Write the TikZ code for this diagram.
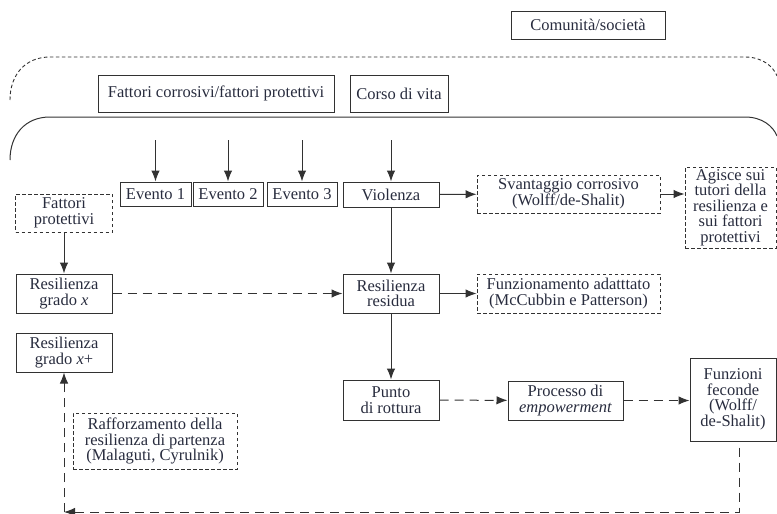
\documentclass[tikz,border=0pt]{standalone}
\usepackage{fontspec}
\setmainfont{Liberation Serif}
\usetikzlibrary{arrows.meta}

\definecolor{ink}{RGB}{40,44,62}
\definecolor{edge}{RGB}{50,50,50}

\tikzset{
  box/.style={draw=edge, line width=1pt, inner sep=0pt, align=center,
    text=ink, font=\fontsize{16.5}{15.5}\selectfont},
  dbox/.style={box, line width=0.9pt, dash pattern=on 3.5pt off 2.5pt},
  arr/.style={draw=edge, line width=1pt, -{Latex[length=11pt,width=8.5pt]}},
  darr/.style={arr, dash pattern=on 9pt off 6pt},
}

\begin{document}
\begin{tikzpicture}[x=1pt,y=-1pt]
    \useasboundingbox (0,0) rectangle (777,514);

    % frames
    \draw[edge, line width=0.9pt, dash pattern=on 3.5pt off 2.5pt]
        (10,100) .. controls (10,75) and (25,57) .. (50,57) -- (745,57)
        .. controls (762,57) and (773,66) .. (777,76);
    \draw[edge, line width=1pt]
        (10,160) .. controls (10,135) and (25,117) .. (50,117) -- (745,117)
        .. controls (762,117) and (773,126) .. (777,136);

    \node[box, minimum width=154, minimum height=28] (com) at (588,25) {Comunità/società};
    \node[box, minimum width=236, minimum height=37] (fcp) at (216,93.5) {Fattori corrosivi/fattori protettivi};
    \node[box, minimum width=98, minimum height=37] (cdv) at (399,93.5) {Corso di vita};

    \node[box, minimum width=71, minimum height=24] (ev1) at (155.5,194) {Evento 1};
    \node[box, minimum width=70, minimum height=24] (ev2) at (228,194) {Evento 2};
    \node[box, minimum width=70, minimum height=24] (ev3) at (302,194) {Evento 3};
    \node[box, minimum width=96, minimum height=25] (viol) at (391,194.5) {Violenza};
    \node[dbox, minimum width=183, minimum height=38] (svant) at (568.5,194) {Svantaggio corrosivo\\(Wolff/de-Shalit)};
    \node[dbox, minimum width=91, minimum height=81] (agisce) at (730.5,207.5) {Agisce sui\\tutori della\\resilienza e\\sui fattori\\protettivi};

    \node[dbox, minimum width=97, minimum height=38] (fprot) at (64,213) {Fattori\\protettivi};
    \node[box, minimum width=96, minimum height=39] (resx) at (64,293.5) {Resilienza\\grado \textit{x}};
    \node[box, minimum width=96, minimum height=39] (resres) at (391,293.5) {Resilienza\\residua};
    \node[dbox, minimum width=183, minimum height=39] (funz) at (568.5,293.5) {Funzionamento adatttato\\(McCubbin e Patterson)};
    \node[box, minimum width=96, minimum height=39] (resxp) at (64,352.5) {Resilienza\\grado \textit{x}+};

    \node[box, minimum width=96, minimum height=40] (punto) at (391,400) {Punto\\di rottura};
    \node[box, minimum width=115, minimum height=39] (proc) at (565.5,400.5) {Processo di\\\textit{empowerment}};
    \node[box, minimum width=86, minimum height=83] (fecon) at (733,399.5) {Funzioni\\feconde\\(Wolff/\\de-Shalit)};
    \node[dbox, minimum width=164, minimum height=56] (raff) at (155,441) {Rafforzamento della\\resilienza di partenza\\(Malaguti, Cyrulnik)};

    \coordinate (in1) at (155.5,140);
    \coordinate (in2) at (228,140);
    \coordinate (in3) at (302,140);
    \coordinate (in4) at (391,140);
    \coordinate (back) at (64,512);

    \draw[arr] (in1) -- (ev1);
    \draw[arr] (in2) -- (ev2);
    \draw[arr] (in3) -- (ev3);
    \draw[arr] (in4) -- (viol);
    \draw[arr] (viol) -- (svant);
    \draw[arr] (svant.east) -- (svant.east -| agisce.west);
    \draw[arr] (fprot) -- (resx);
    \draw[darr] (resx) -- (resres);
    \draw[arr] (viol) -- (resres);
    \draw[arr] (resres) -- (funz);
    \draw[arr] (resres) -- (punto);
    \draw[darr] (punto) -- (proc);
    \draw[darr] (proc) -- (proc -| fecon.west);
    \draw[darr, shorten <=6pt] (fecon.south -| 739,0) |- (back);
    \draw[darr] (back) -- (resxp);
\end{tikzpicture}
\end{document}
